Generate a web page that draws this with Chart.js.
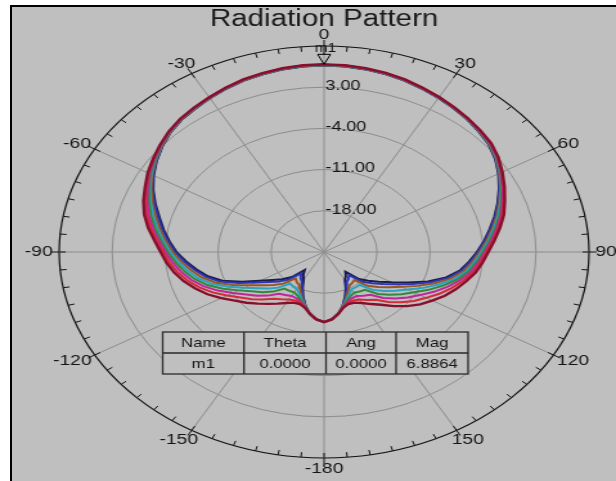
<!DOCTYPE html>
<html>
<head>
<meta charset="utf-8">
<script src="https://cdn.jsdelivr.net/npm/chart.js@4.4.1/dist/chart.umd.min.js"></script>
<style>
html, body { margin: 0; padding: 0; background: #fff; }
body { width: 616px; height: 481px; position: relative; overflow: hidden; }
#panel { position: absolute; left: 10px; top: 5px; right: 0; bottom: 0; background: #bfbfbf;
  border-left: 2px solid #000; border-top: 2px solid #000; }
/* the reference plot is stretched sideways, so draw it round and stretch the canvas */
#wrap { position: absolute; left: 0; top: 0; width: 479px; height: 481px;
  transform: scaleX(1.286); transform-origin: 0 0; }
</style>
</head>
<body>
<div id="panel"></div>
<div id="wrap"><canvas id="chart"></canvas></div>
<script>
// =========================
// DATA (dB, every 5 degrees, clockwise from the top)
// =========================
const angles = [0, 5, 10, 15, 20, 25, 30, 35, 40, 45, 50, 55, 60, 65, 70, 75, 80, 85, 90, 95, 100, 105, 110, 115,
  120, 125, 130, 135, 140, 145, 150, 155, 160, 165, 170, 175, -180, -175, -170, -165, -160, -155, -150, -145,
  -140, -135, -130, -125, -120, -115, -110, -105, -100, -95, -90, -85, -80, -75, -70, -65, -60, -55, -50, -45,
  -40, -35, -30, -25, -20, -15, -10, -5];

const trace1 = [6.8864, 6.85, 6.7, 6.5, 6.2, 5.8, 5.4, 5.0, 4.6, 4.2, 3.8, 3.1, 2.2, 1.3, 0.4, -0.4, -1.4, -2.4, -3.3, -4.0,
  -4.7, -5.6, -6.5, -7.4, -8.5, -9.5, -10.7, -12.0, -13.3, -14.2, -15.0, -15.5, -15.6, -15.2, -14.3, -13.5, -13.1, -13.5, -14.3, -15.2,
  -15.6, -15.5, -15.0, -14.3, -13.5, -12.6, -11.6, -10.6, -9.3, -8.0, -6.9, -5.8, -4.9, -4.1, -3.4, -2.5, -1.4, -0.4, 0.4, 1.1,
  1.9, 2.6, 3.3, 4.0, 4.55, 4.95, 5.35, 5.8, 6.2, 6.45, 6.7, 6.85];
const trace2 = [6.86, 6.82, 6.67, 6.47, 6.17, 5.77, 5.37, 4.97, 4.57, 4.16, 3.74, 3.03, 2.11, 1.18, 0.25, -0.6, -1.61, -2.61, -3.53, -4.27,
  -5.02, -6.0, -7.09, -8.2, -9.43, -10.5, -11.7, -12.98, -14.4, -15.07, -15.68, -15.9, -15.8, -15.25, -14.3, -13.5, -13.1, -13.5, -14.3, -15.25,
  -15.8, -15.92, -15.69, -15.19, -14.63, -13.56, -12.53, -11.52, -10.19, -8.75, -7.47, -6.3, -5.35, -4.49, -3.72, -2.8, -1.72, -0.72, 0.15, 0.92,
  1.77, 2.51, 3.24, 3.96, 4.51, 4.91, 5.32, 5.77, 6.17, 6.42, 6.67, 6.82];
const trace3 = [6.83, 6.79, 6.64, 6.44, 6.14, 5.74, 5.34, 4.94, 4.54, 4.11, 3.68, 2.95, 2.02, 1.06, 0.1, -0.79, -1.82, -2.82, -3.75, -4.54,
  -5.33, -6.41, -7.67, -8.99, -10.36, -11.51, -12.71, -13.95, -15.49, -15.94, -16.35, -16.31, -15.99, -15.29, -14.3, -13.5, -13.1, -13.5, -14.3, -15.29,
  -15.99, -16.34, -16.38, -16.07, -15.75, -14.52, -13.46, -12.43, -11.07, -9.5, -8.04, -6.79, -5.8, -4.88, -4.03, -3.1, -2.03, -1.03, -0.11, 0.74,
  1.63, 2.42, 3.18, 3.91, 4.48, 4.88, 5.29, 5.74, 6.14, 6.39, 6.64, 6.79];
const trace4 = [6.8, 6.76, 6.61, 6.41, 6.11, 5.71, 5.31, 4.91, 4.51, 4.07, 3.62, 2.88, 1.93, 0.94, -0.05, -0.99, -2.03, -3.03, -3.98, -4.81,
  -5.65, -6.82, -8.26, -9.79, -11.29, -12.52, -13.72, -14.93, -16.59, -16.81, -17.03, -16.72, -16.19, -15.34, -14.3, -13.5, -13.1, -13.5, -14.3, -15.34,
  -16.19, -16.76, -17.07, -16.96, -16.88, -15.48, -14.39, -13.35, -11.96, -10.25, -8.61, -7.29, -6.25, -5.27, -4.35, -3.4, -2.35, -1.35, -0.37, 0.56,
  1.5, 2.33, 3.12, 3.87, 4.44, 4.84, 5.26, 5.71, 6.11, 6.36, 6.61, 6.76];
const trace5 = [6.77, 6.73, 6.58, 6.38, 6.08, 5.68, 5.28, 4.88, 4.48, 4.02, 3.56, 2.8, 1.84, 0.82, -0.2, -1.18, -2.24, -3.24, -4.2, -5.08,
  -5.96, -7.22, -8.84, -10.58, -12.22, -13.52, -14.72, -15.9, -17.68, -17.68, -17.7, -17.12, -16.38, -15.38, -14.3, -13.5, -13.1, -13.5, -14.3, -15.38,
  -16.38, -17.18, -17.76, -17.84, -18.0, -16.44, -15.32, -14.26, -12.84, -11.0, -9.18, -7.78, -6.7, -5.66, -4.66, -3.7, -2.66, -1.66, -0.62, 0.38,
  1.36, 2.24, 3.06, 3.82, 4.4, 4.8, 5.23, 5.68, 6.08, 6.33, 6.58, 6.73];
const trace6 = [6.74, 6.7, 6.55, 6.35, 6.05, 5.65, 5.25, 4.85, 4.45, 3.98, 3.5, 2.73, 1.75, 0.7, -0.35, -1.38, -2.45, -3.45, -4.43, -5.35,
  -6.28, -7.63, -9.43, -11.38, -13.15, -14.53, -15.73, -16.88, -18.78, -18.55, -18.38, -17.53, -16.58, -15.43, -14.3, -13.5, -13.1, -13.5, -14.3, -15.43,
  -16.58, -17.6, -18.45, -18.73, -19.13, -17.4, -16.25, -15.18, -13.73, -11.75, -9.75, -8.28, -7.15, -6.05, -4.98, -4.0, -2.98, -1.98, -0.88, 0.2,
  1.23, 2.15, 3.0, 3.78, 4.36, 4.76, 5.2, 5.65, 6.05, 6.3, 6.55, 6.7];
const trace7 = [6.71, 6.67, 6.52, 6.32, 6.02, 5.62, 5.22, 4.82, 4.42, 3.93, 3.44, 2.65, 1.66, 0.58, -0.5, -1.57, -2.66, -3.66, -4.65, -5.62,
  -6.59, -8.03, -10.01, -12.17, -14.08, -15.53, -16.73, -17.85, -19.87, -19.42, -19.05, -17.93, -16.77, -15.47, -14.3, -13.5, -13.1, -13.5, -14.3, -15.47,
  -16.77, -18.02, -19.14, -19.61, -20.25, -18.36, -17.18, -16.09, -14.61, -12.5, -10.32, -8.77, -7.6, -6.44, -5.29, -4.3, -3.29, -2.29, -1.13, 0.02,
  1.09, 2.06, 2.94, 3.73, 4.33, 4.73, 5.17, 5.62, 6.02, 6.27, 6.52, 6.67];
const trace8 = [6.69, 6.65, 6.5, 6.3, 6.0, 5.6, 5.2, 4.8, 4.4, 3.9, 3.4, 2.6, 1.6, 0.5, -0.6, -1.7, -2.8, -3.8, -4.8, -5.8,
  -6.8, -8.3, -10.4, -12.7, -14.7, -16.2, -17.4, -18.5, -20.6, -20.0, -19.5, -18.2, -16.9, -15.5, -14.3, -13.5, -13.1, -13.5, -14.3, -15.5,
  -16.9, -18.3, -19.6, -20.2, -21.0, -19.0, -17.8, -16.7, -15.2, -13.0, -10.7, -9.1, -7.9, -6.7, -5.5, -4.5, -3.5, -2.5, -1.3, -0.1,
  1.0, 2.0, 2.9, 3.7, 4.3, 4.7, 5.15, 5.6, 6.0, 6.25, 6.5, 6.65];

const traces = [trace1, trace2, trace3, trace4, trace5, trace6, trace7, trace8];
const traceColors = ["#86102c", "#d42a3a", "#c2249c", "#2f8a3c", "#2aa2c0", "#9a5524", "#2b36b5", "#1c1c4c"];

// ring range (dB)
const rMin = -25;
const rMax = 10;
const rStep = 7;

// marker table
const markerHead = ["Name", "Theta", "Ang", "Mag"];
const markerRow = ["m1", "0.0000", "0.0000", "6.8864"];
const markerTheta = 0;
const markerMag = 6.8864;

Chart.defaults.font.family = "'Liberation Sans', Arial, sans-serif";

// =========================
// EXTRA DRAWING (ring labels, outer ticks, angle labels, marker, table)
// =========================
const polarDecor = {
  id: "polarDecor",
  afterDraw(chart) {
    const ctx = chart.ctx;
    const r = chart.scales.r;
    const R = r.getDistanceFromCenterForValue(rMax);
    ctx.save();

    // ring labels
    ctx.fillStyle = "#141414";
    ctx.font = "14px 'Liberation Sans', Arial";
    ctx.textAlign = "left";
    ctx.textBaseline = "middle";
    r.ticks.forEach(t => {
      if (t.value === rMin || t.value === rMax) return;
      const d = r.getDistanceFromCenterForValue(t.value);
      ctx.fillText(t.value.toFixed(2), r.xCenter + 1, r.yCenter - d - 1);
    });

    // outer ticks
    ctx.strokeStyle = "#111";
    ctx.lineWidth = 1;
    angles.forEach((a, i) => {
      const major = a % 30 === 0;
      const p1 = r.getPointPosition(i, R - 5);
      const p2 = r.getPointPosition(i, major ? R + 6 : R);
      ctx.beginPath();
      ctx.moveTo(p1.x, p1.y);
      ctx.lineTo(p2.x, p2.y);
      ctx.stroke();
    });

    // angle labels
    ctx.font = "15px 'Liberation Sans', Arial";
    ctx.textAlign = "center";
    angles.forEach((a, i) => {
      if (a % 30 !== 0) return;
      const txt = String(a);
      const p = r.getPointPosition(i, R + 5);
      const th = a * Math.PI / 180;
      const w = ctx.measureText(txt).width;
      ctx.fillText(txt, p.x + Math.sin(th) * w / 2, p.y - Math.cos(th) * 6);
    });

    // marker m1
    const idx = angles.indexOf(markerTheta);
    const mp = r.getPointPositionForValue(idx, markerMag);
    ctx.strokeStyle = "#000";
    ctx.beginPath();
    ctx.moveTo(mp.x, mp.y);
    ctx.lineTo(mp.x - 5, mp.y - 10);
    ctx.lineTo(mp.x + 5, mp.y - 10);
    ctx.closePath();
    ctx.moveTo(mp.x, mp.y - 10);
    ctx.lineTo(mp.x, mp.y - 13);
    ctx.stroke();
    ctx.font = "12px 'Liberation Sans', Arial";
    ctx.fillText(markerRow[0], mp.x + 1, mp.y - 16);

    // marker table
    const cx = [126.5, 189.7, 253.5, 308, 364];
    const cy = [332, 353, 374];
    ctx.fillStyle = "#bfbfbf";
    ctx.fillRect(cx[0], cy[0], cx[4] - cx[0], cy[2] - cy[0]);
    ctx.strokeStyle = "#2a2a2a";
    ctx.lineWidth = 1.3;
    ctx.strokeRect(cx[0], cy[0], cx[4] - cx[0], cy[2] - cy[0]);
    ctx.beginPath();
    ctx.moveTo(cx[0], cy[1]);
    ctx.lineTo(cx[4], cy[1]);
    for (let k = 1; k < 4; k++) {
      ctx.moveTo(cx[k], cy[0]);
      ctx.lineTo(cx[k], cy[2]);
    }
    ctx.stroke();
    ctx.fillStyle = "#141414";
    ctx.font = "13px 'Liberation Sans', Arial";
    for (let k = 0; k < 4; k++) {
      const mx = (cx[k] + cx[k + 1]) / 2;
      ctx.fillText(markerHead[k], mx, (cy[0] + cy[1]) / 2 + 1);
      ctx.fillText(markerRow[k], mx, (cy[1] + cy[2]) / 2 + 1);
    }
    ctx.restore();
  }
};

// =========================
// CHART
// =========================
new Chart(document.getElementById("chart"), {
  type: "radar",
  data: {
    labels: angles,
    datasets: traces.map((t, i) => ({
      data: t,
      borderColor: traceColors[i],
      borderWidth: i === 0 ? 2.4 : 2,
      fill: false,
      pointRadius: 0
    }))
  },
  options: {
    responsive: true,
    maintainAspectRatio: false,
    animation: false,
    layout: { padding: { left: 46, right: 21, top: 0, bottom: 23 } },
    elements: { line: { tension: 0 } },
    plugins: {
      legend: { display: false },
      tooltip: { enabled: false },
      title: {
        display: true,
        text: "Radiation Pattern",
        color: "#1a1a1a",
        font: { size: 23, weight: "normal" },
        padding: { top: 6, bottom: 12.4 }
      }
    },
    scales: {
      r: {
        min: rMin,
        max: rMax,
        ticks: { stepSize: rStep, display: false },
        pointLabels: { display: false },
        grid: {
          circular: true,
          color: c => (c.tick && c.tick.value === rMax ? "#111" : "#8c8c8c"),
          lineWidth: c => (c.tick && c.tick.value === rMax ? 1.2 : 1)
        },
        angleLines: {
          color: "#8c8c8c",
          lineWidth: c => (angles[c.index] % 30 === 0 ? 1 : 0)
        }
      }
    }
  },
  plugins: [polarDecor]
});
</script>
</body>
</html>
